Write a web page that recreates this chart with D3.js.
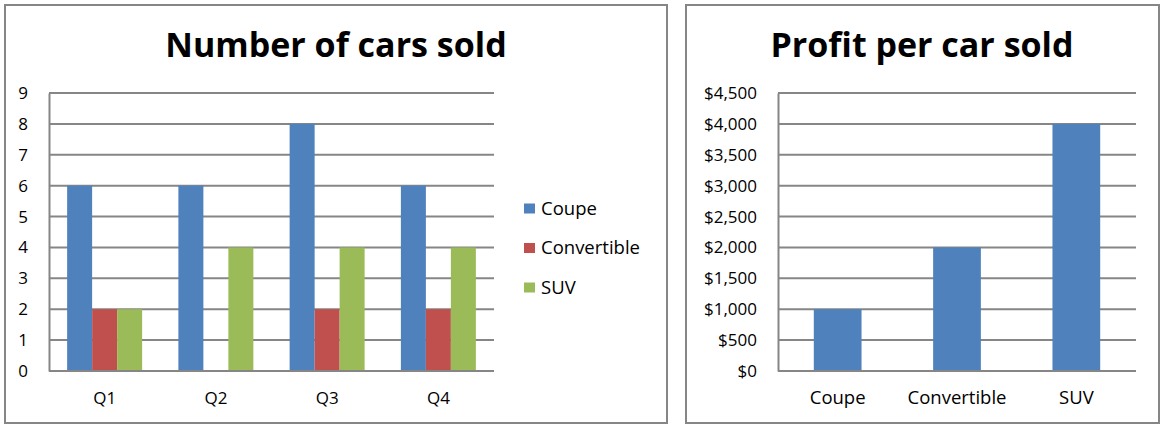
<!DOCTYPE html>
<html>
<head>
<meta charset="utf-8">
<script src="https://cdn.jsdelivr.net/npm/d3@7"></script>
<style>
  html, body { margin: 0; padding: 0; background: #fff; }
  svg { display: block; }
  text { font-family: "Open Sans", "Noto Sans", sans-serif; fill: #000; }
</style>
</head>
<body>
<svg id="chart" width="1164" height="430"></svg>
<script>
// ---- Data ----
const quarters = ["Q1", "Q2", "Q3", "Q4"];
const seriesNames = ["Coupe", "Convertible", "SUV"];
const coupeSold = [6, 6, 8, 6];
const convertibleSold = [2, 0, 2, 2];
const suvSold = [2, 4, 4, 4];
const countTicks = [0, 1, 2, 3, 4, 5, 6, 7, 8, 9];

const carTypes = ["Coupe", "Convertible", "SUV"];
const profitPerCar = [1000, 2000, 4000];
const profitTicks = [0, 500, 1000, 1500, 2000, 2500, 3000, 3500, 4000, 4500];

const seriesColors = ["#4F81BD", "#C0504D", "#9BBB59"];
const gridColor = "#868686";
const tickFont = "17px";
const wordFont = "18.5px";

const svg = d3.select("#chart");

// ---- Panel frames ----
function panel(x0, y0, x1, y1) {
  svg.append("rect")
    .attr("x", x0).attr("y", y0)
    .attr("width", x1 - x0).attr("height", y1 - y0)
    .attr("fill", "#fff").attr("stroke", gridColor).attr("stroke-width", 2);
}
panel(5, 5, 667, 423);
panel(686, 5, 1159, 423);

function styleText(sel, size) {
  sel.style("font-size", size).style("font-family", '"Open Sans", sans-serif').attr("fill", "#000");
}

// ---- Left chart: Number of cars sold ----
(function () {
  const left = 49, right = 494, top = 93, bottom = 371;
  const g = svg.append("g");
  g.append("text").attr("x", 336).attr("y", 57)
    .attr("text-anchor", "middle")
    .style("font-size", "34px").style("font-weight", "bold")
    .text("Number of cars sold");

  const y = d3.scaleLinear().domain([0, 9]).range([bottom, top]);
  const x0 = d3.scaleBand().domain(quarters).range([left, right]).paddingInner(0.326).paddingOuter(0.163);
  const x1 = d3.scaleBand().domain(seriesNames).range([0, x0.bandwidth()]);

  g.append("g").selectAll("line").data(countTicks.filter(d => d > 0)).join("line")
    .attr("x1", left).attr("x2", right)
    .attr("y1", d => y(d)).attr("y2", d => y(d))
    .attr("stroke", gridColor).attr("stroke-width", 2);

  const values = [coupeSold, convertibleSold, suvSold];
  const barData = [];
  quarters.forEach((q, i) => seriesNames.forEach((s, j) => barData.push({ q, s, j, v: values[j][i] })));
  g.append("g").selectAll("rect").data(barData.filter(d => d.v > 0)).join("rect")
    .attr("x", d => x0(d.q) + x1(d.s))
    .attr("width", x1.bandwidth())
    .attr("y", d => y(d.v))
    .attr("height", d => y(0) - y(d.v))
    .attr("fill", d => seriesColors[d.j]);

  const yAxis = d3.axisLeft(y).tickValues(countTicks).tickSize(0).tickPadding(21);
  const ya = g.append("g").attr("transform", `translate(${left},0)`).call(yAxis);
  ya.select(".domain").attr("stroke", gridColor).attr("stroke-width", 2);
  styleText(ya.selectAll("text"), tickFont);

  const xAxis = d3.axisBottom(x0).tickSize(0).tickPadding(21);
  const xa = g.append("g").attr("transform", `translate(0,${bottom})`).call(xAxis);
  xa.select(".domain").attr("stroke", gridColor).attr("stroke-width", 2).attr("d", `M${left},0H${right}`);
  styleText(xa.selectAll("text"), tickFont);

  const lg = g.append("g");
  const legY = d3.scalePoint().domain(seriesNames).range([208.5, 287.5]);
  seriesNames.forEach((s, j) => {
    lg.append("rect").attr("x", 524).attr("y", legY(s) - 5).attr("width", 11).attr("height", 10)
      .attr("fill", seriesColors[j]);
    lg.append("text").attr("x", 541).attr("y", legY(s)).attr("dy", "0.35em")
      .style("font-size", wordFont).text(s);
  });
})();

// ---- Right chart: Profit per car sold ----
(function () {
  const left = 778, right = 1136, top = 93, bottom = 371;
  const g = svg.append("g");
  g.append("text").attr("x", 922).attr("y", 57)
    .attr("text-anchor", "middle")
    .style("font-size", "34px").style("font-weight", "bold")
    .text("Profit per car sold");

  const y = d3.scaleLinear().domain([0, 4500]).range([bottom, top]);
  const x = d3.scaleBand().domain(carTypes).range([left, right]).paddingInner(0.6).paddingOuter(0.3);

  g.append("g").selectAll("line").data(profitTicks.filter(d => d > 0)).join("line")
    .attr("x1", left).attr("x2", right)
    .attr("y1", d => y(d)).attr("y2", d => y(d))
    .attr("stroke", gridColor).attr("stroke-width", 2);

  g.append("g").selectAll("rect").data(carTypes.map((c, i) => ({ c, v: profitPerCar[i] }))).join("rect")
    .attr("x", d => x(d.c))
    .attr("width", x.bandwidth())
    .attr("y", d => y(d.v))
    .attr("height", d => y(0) - y(d.v))
    .attr("fill", seriesColors[0]);

  const fmt = d => "$" + d3.format(",")(d);
  const yAxis = d3.axisLeft(y).tickValues(profitTicks).tickFormat(fmt).tickSize(0).tickPadding(21);
  const ya = g.append("g").attr("transform", `translate(${left},0)`).call(yAxis);
  ya.select(".domain").attr("stroke", gridColor).attr("stroke-width", 2);
  styleText(ya.selectAll("text"), tickFont);

  const xAxis = d3.axisBottom(x).tickSize(0).tickPadding(20);
  const xa = g.append("g").attr("transform", `translate(0,${bottom})`).call(xAxis);
  xa.select(".domain").attr("stroke", gridColor).attr("stroke-width", 2).attr("d", `M${left},0H${right}`);
  styleText(xa.selectAll("text"), wordFont);
})();
</script>
</body>
</html>
